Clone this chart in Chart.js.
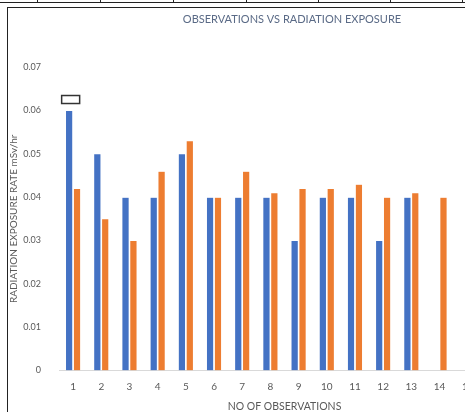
<!DOCTYPE html>
<html>
<head>
<meta charset="utf-8">
<script src="https://cdn.jsdelivr.net/npm/chart.js@4"></script>
<style>
  html, body { margin: 0; padding: 0; background: #fff; overflow: hidden; width: 465px; height: 412px; }
  .tbl { position: absolute; left: 0; top: 0; width: 465px; height: 2px; border-bottom: 1px solid #222; }
  .tbl i { position: absolute; top: 0; width: 1px; height: 3px; background: #222; }
  .frame { position: absolute; left: 7px; top: 7px; width: 568px; height: 405px; border-left: 1px solid #222; border-top: 1px solid #222; }
</style>
</head>
<body>
<div class="tbl"><i style="left:37px"></i><i style="left:100px"></i><i style="left:173px"></i><i style="left:246px"></i><i style="left:318px"></i><i style="left:390px"></i><i style="left:462px"></i></div>
<div class="frame"><canvas id="obs"></canvas></div>
<script>
const observations = ['1', '2', '3', '4', '5', '6', '7', '8', '9', '10', '11', '12', '13', '14', '15', '16'];
const seriesBlue = [0.06, 0.05, 0.04, 0.04, 0.05, 0.04, 0.04, 0.04, 0.03, 0.04, 0.04, 0.03, 0.04, null, null, null];
const seriesOrange = [0.042, 0.035, 0.03, 0.046, 0.053, 0.04, 0.046, 0.041, 0.042, 0.042, 0.043, 0.04, 0.041, 0.04, null, null];
const yTicks = [0, 0.01, 0.02, 0.03, 0.04, 0.05, 0.06, 0.07];

const font = 'Lato, "Open Sans", sans-serif';

// empty box drawn above the first bar
const boxPlugin = {
  id: 'emptyBox',
  afterDatasetsDraw(chart) {
    const bar = chart.getDatasetMeta(0).data[0];
    if (!bar) return;
    const ctx = chart.ctx;
    ctx.save();
    ctx.strokeStyle = '#333';
    ctx.lineWidth = 1.5;
    ctx.strokeRect(bar.x - 7.5, bar.y - 15, 18, 8);
    ctx.restore();
  }
};

const config = {
  type: 'bar',
  data: {
    labels: observations,
    datasets: [{
      label: 'Series 1',
      data: seriesBlue,
      backgroundColor: '#4472C4',
      borderColor: 'rgba(255,255,255,0.35)',
      borderWidth: 0.5,
      barPercentage: 0.92,
      categoryPercentage: 0.56
    }, {
      label: 'Series 2',
      data: seriesOrange,
      backgroundColor: '#ED7D31',
      borderColor: 'rgba(255,255,255,0.35)',
      borderWidth: 0.5,
      barPercentage: 0.92,
      categoryPercentage: 0.56
    }]
  },
  options: {
    responsive: false,
    animation: false,
    layout: { padding: 0 },
    plugins: {
      legend: { display: false },
      tooltip: { enabled: false },
      title: {
        display: true,
        text: 'OBSERVATIONS VS RADIATION EXPOSURE',
        color: '#5a6a86',
        font: { family: font, size: 11, weight: 'normal' },
        padding: { top: 5, bottom: 41 }
      }
    },
    scales: {
      x: {
        grid: { display: false },
        border: { color: '#d9d9d9', width: 1 },
        ticks: { color: '#595959', font: { family: font, size: 10 }, padding: 2, maxRotation: 0, autoSkip: false },
        title: {
          display: true,
          text: 'NO OF OBSERVATIONS',
          color: '#595959',
          font: { family: font, size: 10.5 },
          padding: { top: 6, bottom: 0 }
        }
      },
      y: {
        min: 0,
        max: 0.07,
        afterBuildTicks(scale) {
          scale.ticks = yTicks.map(v => ({ value: v }));
        },
        afterFit(scale) { scale.width = 51; },
        grid: { display: false },
        border: { display: false },
        ticks: {
          color: '#595959',
          font: { family: font, size: 9 },
          padding: 10,
          callback: v => v === 0 ? '0' : v.toFixed(2)
        },
        title: {
          display: true,
          text: 'RADIATION EXPOSURE RATE mSv/hr',
          color: '#595959',
          font: { family: font, size: 10 },
          padding: { top: 0, bottom: 4 }
        }
      },
      y2: {
        type: 'linear',
        position: 'right',
        display: true,
        grid: { display: false },
        border: { display: false },
        ticks: { display: false },
        afterFit(scale) { scale.width = 66; }
      }
    }
  },
  plugins: [boxPlugin]
};

const canvas = document.getElementById('obs');
canvas.width = 568;
canvas.height = 405;
const obsChart = new Chart(canvas, config);
</script>
</body>
</html>
